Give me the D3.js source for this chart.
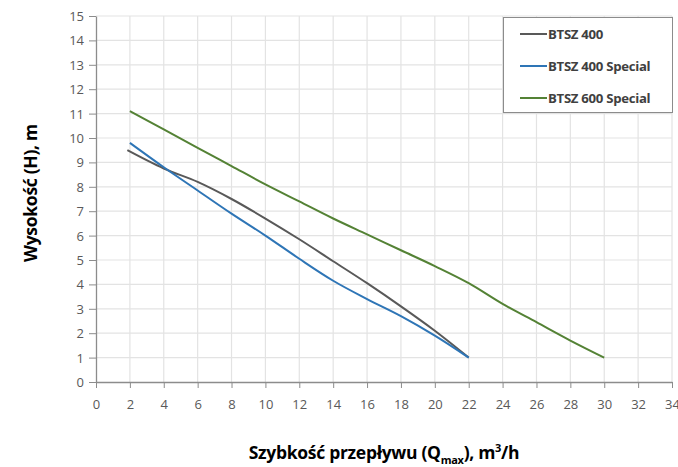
<!DOCTYPE html>
<html><head><meta charset="utf-8">
<script src="https://cdn.jsdelivr.net/npm/d3@7"></script>
<style>body{margin:0;background:#fff}svg{display:block}</style>
</head><body>
<svg id="c" width="678" height="467"></svg>
<script>
const xTicks = [0,2,4,6,8,10,12,14,16,18,20,22,24,26,28,30,32,34];
const yTicks = [0,1,2,3,4,5,6,7,8,9,10,11,12,13,14,15];
const seriesNames = ["BTSZ 400","BTSZ 400 Special","BTSZ 600 Special"];
const seriesColors = ["#595959","#2e75b6","#548235"];
const btsz400Q = [1.85,4,6,8,10,12,14,16,18,20,22];
const btsz400H = [9.5,8.75,8.2,7.5,6.7,5.85,4.95,4.05,3.1,2.1,1.0];
const btsz400sQ = [2,4,6,8,10,12,14,16,18,20,22];
const btsz400sH = [9.8,8.8,7.85,6.9,6.0,5.05,4.15,3.4,2.7,1.9,1.0];
const btsz600sQ = [2,4,6,8,10,12,14,16,18,20,22,24,26,28,30];
const btsz600sH = [11.1,10.35,9.6,8.85,8.1,7.4,6.7,6.05,5.4,4.75,4.05,3.2,2.45,1.7,1.0];

const svg = d3.select("#c");
const L=96, R=672, T=16, B=382;
const x = d3.scaleLinear().domain([0,34]).range([L,R]);
const y = d3.scaleLinear().domain([0,15]).range([B,T]);
const tickFont = "'Open Sans', 'Noto Sans', sans-serif";

// grid
svg.append("g").selectAll("line.v").data(xTicks.filter(d=>d>0)).join("line")
  .attr("x1",d=>x(d)).attr("x2",d=>x(d)).attr("y1",T).attr("y2",B)
  .attr("stroke","#e3e3e3").attr("stroke-width",1.2);
svg.append("g").selectAll("line.h").data(yTicks.filter(d=>d>0)).join("line")
  .attr("x1",L).attr("x2",R).attr("y1",d=>y(d)).attr("y2",d=>y(d))
  .attr("stroke","#e3e3e3").attr("stroke-width",1.2);

// axes
const xa = svg.append("g").attr("transform",`translate(0,${B})`)
  .call(d3.axisBottom(x).tickValues(xTicks).tickSize(6).tickPadding(12).tickSizeOuter(0));
const ya = svg.append("g").attr("transform",`translate(${L},0)`)
  .call(d3.axisLeft(y).tickValues(yTicks).tickSize(7).tickPadding(5).tickSizeOuter(0));
[xa,ya].forEach(a=>{
  a.select(".domain").attr("stroke","#8c8c8c").attr("stroke-width",1.3);
  a.selectAll(".tick line").attr("stroke","#8c8c8c");
  a.selectAll(".tick text").attr("fill","#595959").attr("font-size",13).attr("font-family",tickFont);
});
ya.selectAll(".tick text").attr("dy","0.35em");

// lines
const line = d3.line().x(d=>x(d[0])).y(d=>y(d[1])).curve(d3.curveMonotoneX);
const data = [
  d3.zip(btsz400Q,btsz400H),
  d3.zip(btsz400sQ,btsz400sH),
  d3.zip(btsz600sQ,btsz600sH)
];
svg.append("g").selectAll("path").data(data).join("path")
  .attr("d",line).attr("fill","none")
  .attr("stroke",(d,i)=>seriesColors[i]).attr("stroke-width",2);

// legend
const lg = svg.append("g");
lg.append("rect").attr("x",503.5).attr("y",17.5).attr("width",169).attr("height",95)
  .attr("fill","#fff").attr("stroke","#8c8c8c").attr("stroke-width",1);
seriesNames.forEach((n,i)=>{
  const yy = 34 + i*32;
  lg.append("line").attr("x1",520).attr("x2",547).attr("y1",yy).attr("y2",yy)
    .attr("stroke",seriesColors[i]).attr("stroke-width",2);
  lg.append("text").attr("x",548).attr("y",yy).attr("dy","0.35em")
    .attr("font-family",tickFont).attr("font-weight","bold").attr("font-size",13.2)
    .attr("fill","#404040").attr("letter-spacing","-0.3").text(n);
});

// titles
svg.append("text").attr("transform","translate(37,193) rotate(-90)")
  .attr("text-anchor","middle").attr("font-family",tickFont).attr("font-weight","bold")
  .attr("font-size",17.5).attr("fill","#000").attr("letter-spacing","-0.3").text("Wysokość (H), m");
const xt = svg.append("text").attr("x",384).attr("y",459).attr("text-anchor","middle")
  .attr("font-family",tickFont).attr("font-weight","bold").attr("font-size",17.5)
  .attr("fill","#000").attr("letter-spacing","-0.3");
xt.append("tspan").text("Szybkość przepływu (Q");
xt.append("tspan").attr("font-size",11).attr("dy",5).text("max");
xt.append("tspan").attr("dy",-5).text("), m");
xt.append("tspan").attr("font-size",11).attr("dy",-7).text("3");
xt.append("tspan").attr("dy",7).text("/h");
</script>
</body></html>
